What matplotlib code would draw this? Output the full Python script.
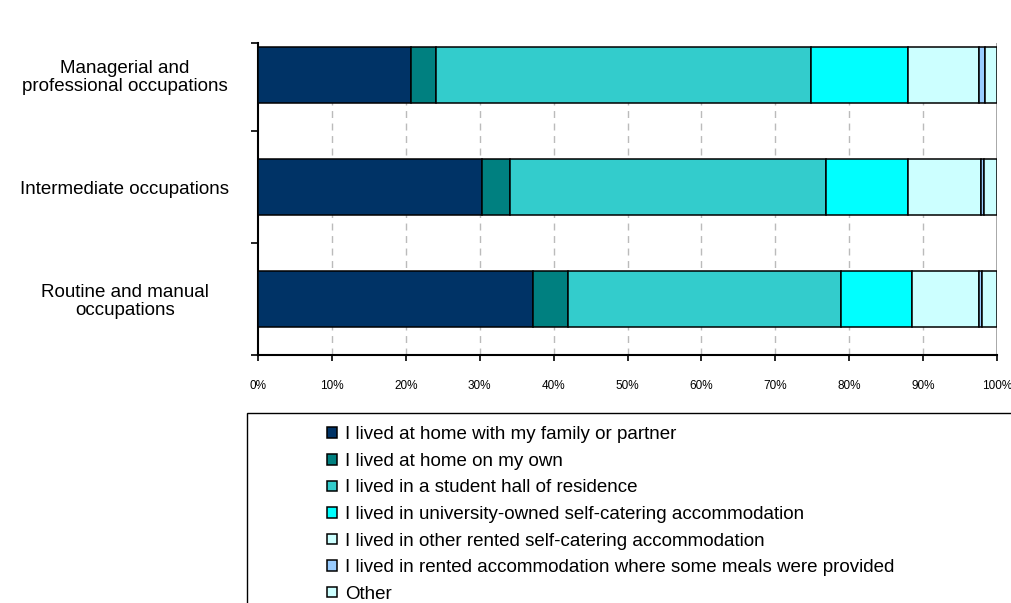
import numpy as np
import matplotlib.pyplot as plt
from matplotlib.patches import Rectangle

plt.rcParams['font.family'] = ['Liberation Sans', 'DejaVu Sans']

categories = ['Routine and manual\noccupations', 'Intermediate occupations',
              'Managerial and\nprofessional occupations']
series = ['I lived at home with my family or partner',
          'I lived at home on my own',
          'I lived in a student hall of residence',
          'I lived in university-owned self-catering accommodation',
          'I lived in other rented self-catering accommodation',
          'I lived in rented accommodation where some meals were provided',
          'Other']
# rows follow categories order (bottom to top)
values = np.array([
    [37.2, 4.8, 36.9, 9.6, 9.1, 0.4, 2.0],
    [30.3, 3.8, 42.7, 11.2, 9.8, 0.5, 1.7],
    [20.7, 3.4, 50.7, 13.2, 9.5, 0.9, 1.6],
])
colors = ['#003366', '#008080', '#33CCCC', '#00FFFF', '#CCFFFF', '#99CCFF', '#CCFFFF']
xticks = np.arange(0, 101, 10)

fig = plt.figure(figsize=(10.11, 6.03), dpi=100)
ax = fig.add_axes([258 / 1011, 1 - 355 / 603, (997 - 258) / 1011, (355 - 43) / 603])

y = np.arange(len(categories))
left = np.zeros(len(categories))
handles = []
for i, name in enumerate(series):
    b = ax.barh(y, values[:, i], left=left, height=0.5, color=colors[i],
                edgecolor='black', linewidth=1.1, label=name, zorder=3)
    handles.append(b)
    left += values[:, i]

ax.set_xlim(0, 100)
ax.set_ylim(-0.5, 2.286)
ax.set_xticks(xticks)
ax.set_xticklabels([f'{v}%' for v in xticks], fontsize=8.5)
ax.set_yticks(y)
ax.set_yticklabels(categories, fontsize=13.5, ha='center', linespacing=1.05)
ax.tick_params(axis='y', length=0, pad=96)
ax.set_yticks([-0.5, 0.5, 1.5, 2.286], minor=True)
ax.tick_params(axis='y', which='minor', length=5, width=1.2, direction='out')
ax.tick_params(axis='x', length=4, width=1.2, direction='out', pad=14)

for v in xticks[1:-1]:
    ax.axvline(v, color='#bbbbbb', linestyle=(0, (5, 4)), linewidth=1, zorder=1)
ax.axvline(100, color='#999999', linewidth=1.2, zorder=1)

ax.spines['top'].set_visible(False)
ax.spines['right'].set_visible(False)
ax.spines['left'].set_linewidth(1.5)
ax.spines['bottom'].set_linewidth(1.5)

# legend box runs off the figure edge
fig.patches.append(Rectangle((247 / 1011, -0.1), 0.8, 0.1 + 1 - 413 / 603,
                             transform=fig.transFigure, fill=False,
                             edgecolor='black', linewidth=1, clip_on=False))
fig.legend(handles=handles, labels=series, loc='upper left',
           bbox_to_anchor=(318 / 1011, 1 - 417 / 603), frameon=False,
           fontsize=13.5, handlelength=0.5, handleheight=0.5, handletextpad=0.45,
           labelspacing=0.51, borderpad=0)

fig.savefig('out.png', dpi=100)
